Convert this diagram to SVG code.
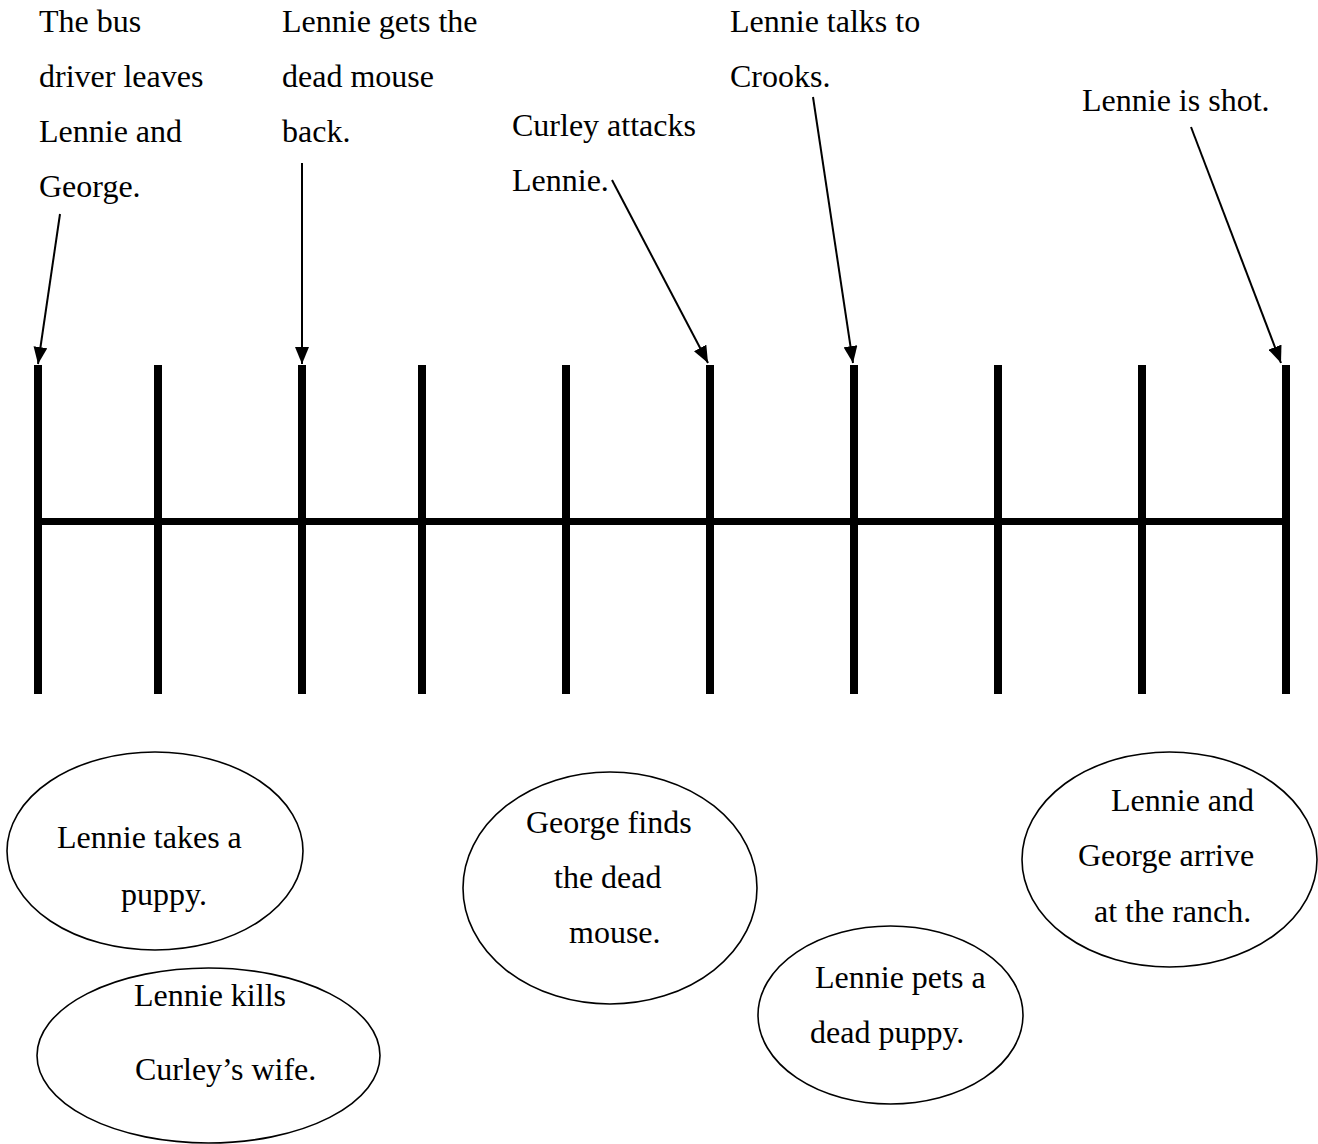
<svg xmlns="http://www.w3.org/2000/svg" width="1318" height="1144" viewBox="0 0 1318 1144">
<style>
text{font-family:"Liberation Serif","Times New Roman",serif;font-size:32px;fill:#000}
.tick{stroke:#000;stroke-width:8}
.axis{stroke:#000;stroke-width:7}
.conn{stroke:#000;stroke-width:2;fill:none}
.oval{fill:#fff;stroke:#000;stroke-width:1.6}
</style>
<defs>
<marker id="ah" markerUnits="userSpaceOnUse" markerWidth="17" markerHeight="14" refX="17" refY="7" orient="auto">
<path d="M0,0 L17,7 L0,14 z" fill="#000"/>
</marker>
</defs>
<rect width="1318" height="1144" fill="#fff"/>
<g id="timeline">
<line class="axis" x1="38" y1="521.5" x2="1286" y2="521.5"/>
<line class="tick" x1="38" y1="365" x2="38" y2="694"/>
<line class="tick" x1="158" y1="365" x2="158" y2="694"/>
<line class="tick" x1="302" y1="365" x2="302" y2="694"/>
<line class="tick" x1="422" y1="365" x2="422" y2="694"/>
<line class="tick" x1="566" y1="365" x2="566" y2="694"/>
<line class="tick" x1="710" y1="365" x2="710" y2="694"/>
<line class="tick" x1="854" y1="365" x2="854" y2="694"/>
<line class="tick" x1="998" y1="365" x2="998" y2="694"/>
<line class="tick" x1="1142" y1="365" x2="1142" y2="694"/>
<line class="tick" x1="1286" y1="365" x2="1286" y2="694"/>
</g>
<g id="connectors">
<line class="conn" x1="60" y1="214" x2="38" y2="364" marker-end="url(#ah)"/>
<line class="conn" x1="302" y1="163" x2="302" y2="364" marker-end="url(#ah)"/>
<line class="conn" x1="612" y1="180" x2="708" y2="363" marker-end="url(#ah)"/>
<line class="conn" x1="813" y1="97" x2="853" y2="363" marker-end="url(#ah)"/>
<line class="conn" x1="1191" y1="127" x2="1281" y2="363" marker-end="url(#ah)"/>
</g>
<g id="label-bus">
<text x="39" y="32">The bus</text>
<text x="39" y="87">driver leaves</text>
<text x="39" y="142">Lennie and</text>
<text x="39" y="197">George.</text>
</g>
<g id="label-mouse-back">
<text x="282" y="32">Lennie gets the</text>
<text x="282" y="87">dead mouse</text>
<text x="282" y="142">back.</text>
</g>
<g id="label-curley">
<text x="512" y="136">Curley attacks</text>
<text x="512" y="191">Lennie.</text>
</g>
<g id="label-crooks">
<text x="730" y="32">Lennie talks to</text>
<text x="730" y="87">Crooks.</text>
</g>
<g id="label-shot">
<text x="1082" y="111">Lennie is shot.</text>
</g>
<g id="oval-puppy">
<ellipse class="oval" cx="155" cy="851" rx="148" ry="99"/>
<text x="57" y="848">Lennie takes a</text>
<text x="121" y="905">puppy.</text>
</g>
<g id="oval-wife">
<ellipse class="oval" cx="208.5" cy="1055.5" rx="171.5" ry="87.5"/>
<text x="134" y="1006">Lennie kills</text>
<text x="135" y="1080">Curley’s wife.</text>
</g>
<g id="oval-george-finds">
<ellipse class="oval" cx="610" cy="888" rx="147" ry="116"/>
<text x="526" y="833">George finds</text>
<text x="554" y="888">the dead</text>
<text x="569" y="943">mouse.</text>
</g>
<g id="oval-pets">
<ellipse class="oval" cx="890.5" cy="1015" rx="132.5" ry="89"/>
<text x="815" y="988">Lennie pets a</text>
<text x="810" y="1043">dead puppy.</text>
</g>
<g id="oval-arrive">
<ellipse class="oval" cx="1169.5" cy="859.5" rx="147.5" ry="107.5"/>
<text x="1111" y="811">Lennie and</text>
<text x="1078" y="866">George arrive</text>
<text x="1094" y="922">at the ranch.</text>
</g>
</svg>
